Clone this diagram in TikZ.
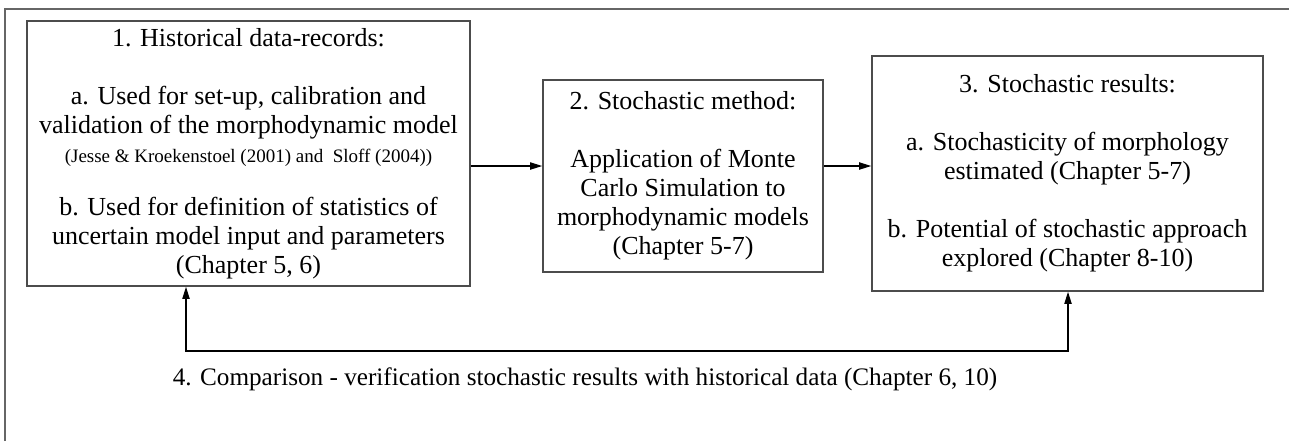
\documentclass[tikz,border=0pt]{standalone}
\usepackage{fontspec}
\setmainfont{Liberation Serif}
\usetikzlibrary{arrows.meta}
\tikzset{
  stagebox/.style={draw=black!70, line width=0.8pt, align=center, inner sep=0pt,
    font=\fontsize{13}{14.5}\selectfont},
}
\begin{document}
\begin{tikzpicture}[x=0.5pt, y=-0.5pt, >={Triangle[length=6pt,width=3.6pt]}]
    \useasboundingbox (0,0) rectangle (1289,441);
    % Rahmen
    \draw[black!60, line width=0.7pt] (5,441) -- (5,9) -- (1289,9);

    % Kaesten
    \node[stagebox, minimum width=221.5pt, minimum height=132.5pt] (hist) at (248.5,153.5)
        {1. Historical data-records:\\[14.5pt]
         a. Used for set-up, calibration and\\
         validation of the morphodynamic model\\
         {\fontsize{9.5}{12}\selectfont (Jesse \& Kroekenstoel (2001) and~ Sloff (2004))}\\[12pt]
         b. Used for definition of statistics of\\
         uncertain model input and parameters\\
         (Chapter 5, 6)};
    \node[stagebox, minimum width=140pt, minimum height=96pt] (method) at (683,176)
        {2. Stochastic method:\\[14.5pt]
         Application of Monte\\
         Carlo Simulation to\\
         morphodynamic models\\
         (Chapter 5-7)};
    \node[stagebox, minimum width=195.5pt, minimum height=117.5pt] (res) at (1067.5,173.5)
        {3. Stochastic results:\\[14.5pt]
         a. Stochasticity of morphology\\
         estimated (Chapter 5-7)\\[14.5pt]
         b. Potential of stochastic approach\\
         explored (Chapter 8-10)};

    % Pfeile
    \draw[->, line width=0.6pt] (hist.east |- 0,166) -- (method.west |- 0,166);
    \draw[->, line width=0.6pt] (method.east |- 0,166) -- (res.west |- 0,166);

    % Rueckkopplung
    \coordinate (l1) at (186,351);
    \coordinate (l3) at (1068,351);
    \draw[<->, line width=0.6pt] (hist.south -| l1) -- (l1) -- (l3) -- (res.south -| l3);
    \node[font=\fontsize{12.6}{14.5}\selectfont] (cmp) at (585,379)
        {4. Comparison - verification stochastic results with historical data (Chapter 6, 10)};
\end{tikzpicture}
\end{document}
